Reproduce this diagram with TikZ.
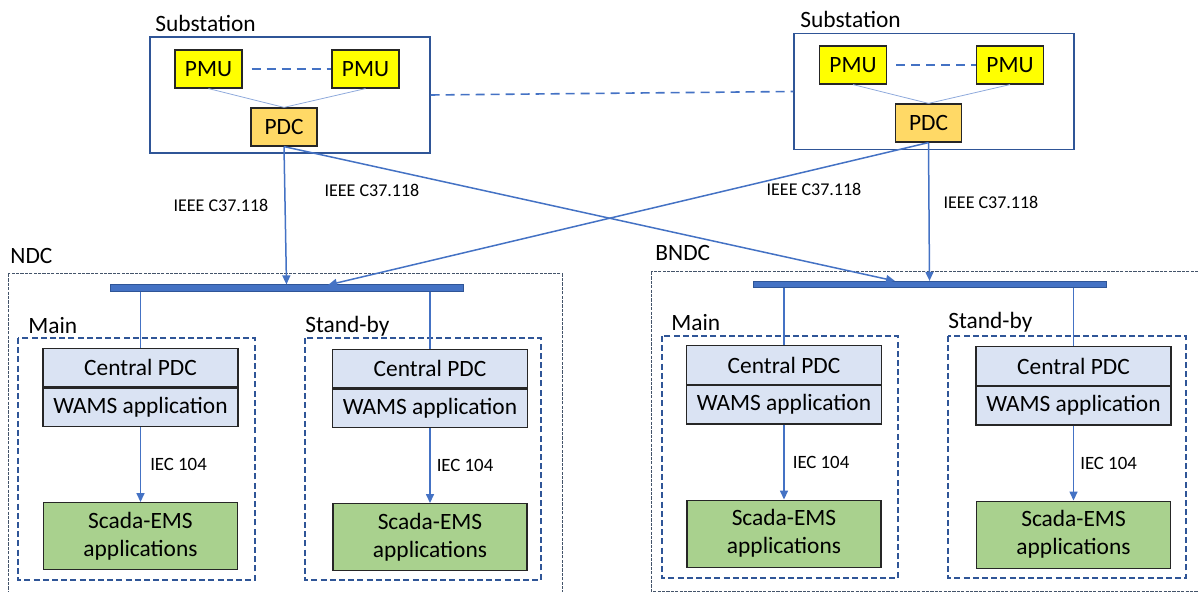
\documentclass[tikz,border=0pt]{standalone}
\usepackage{fontspec}
\setmainfont{Carlito}
\usetikzlibrary{arrows.meta,positioning}

\definecolor{linkblue}{HTML}{4472C4}
\definecolor{frameblue}{HTML}{2F5597}
\definecolor{pmuyellow}{HTML}{FFFF00}
\definecolor{pdcorange}{HTML}{FFD966}
\definecolor{cpdcblue}{HTML}{DAE3F3}
\definecolor{scadagreen}{HTML}{A9D18E}
\definecolor{thinblue}{HTML}{8FAADC}
\definecolor{outergray}{HTML}{44546A}

\newcommand{\boxfont}{\fontsize{11.7}{14}\selectfont}
\newcommand{\protofont}{\fontsize{9}{10}\selectfont}
\newcommand{\iecfont}{\fontsize{9.4}{11}\selectfont}

\tikzset{
  devbox/.style={draw=black!85, line width=0.6pt, inner sep=0pt, font=\boxfont},
  pmubox/.style={devbox, fill=pmuyellow, minimum width=33.5pt, minimum height=19pt},
  pdcbox/.style={devbox, fill=pdcorange, minimum width=33pt, minimum height=19pt},
  cpdcbox/.style={devbox, fill=cpdcblue, minimum width=97.5pt, minimum height=19.25pt},
  scadabox/.style={devbox, fill=scadagreen, minimum width=97pt, minimum height=33.5pt, align=center},
  subbox/.style={draw=frameblue, line width=0.6pt, minimum width=140pt, minimum height=58pt},
  groupbox/.style={draw=frameblue, line width=0.55pt, dash pattern=on 3pt off 1.6pt},
  centrebox/.style={draw=outergray, line width=0.5pt, dash pattern=on 1.6pt off 0.6pt},
  grouplabel/.style={font=\boxfont, inner sep=0pt, anchor=base west},
  link/.style={draw=linkblue, line width=0.75pt, -{Triangle[length=4.5pt,width=4pt]}},
  feed/.style={draw=linkblue, line width=0.75pt},
  pmulink/.style={draw=thinblue, line width=0.4pt},
  peerlink/.style={draw=linkblue, line width=0.8pt, dash pattern=on 4.5pt off 3pt},
  busbar/.style={draw=frameblue, fill=linkblue, line width=0.4pt, minimum width=176.5pt, minimum height=3.2pt, inner sep=0pt},
  proto/.style={font=\protofont, inner sep=0pt},
  iec/.style={font=\iecfont, inner sep=0pt},
}

\begin{document}
\begin{tikzpicture}[x=0.5pt,y=-0.5pt]
\useasboundingbox (0,0) rectangle (1198,592);

% substations
\node[subbox] (subL) at (290,95) {};
\node[grouplabel] (subLlabel) at (155,32) {Substation};
\node[pmubox] (pmuL1) at (208.5,69) {PMU};
\node[pmubox] (pmuL2) at (365.5,69) {PMU};
\node[pdcbox] (pdcL) at (284,127) {PDC};
\draw[pmulink] (pmuL1.south) -- (pdcL.north);
\draw[pmulink] (pmuL2.south) -- (pdcL.north);
\draw[peerlink] ([xshift=4.5pt]pmuL1.east) -- (pmuL2.west);

\node[subbox] (subR) at (934,91.5) {};
\node[grouplabel] (subRlabel) at (800,28) {Substation};
\node[pmubox] (pmuR1) at (853,65) {PMU};
\node[pmubox] (pmuR2) at (1010,65) {PMU};
\node[pdcbox] (pdcR) at (928.5,123) {PDC};
\draw[pmulink] (pmuR1.south) -- (pdcR.north);
\draw[pmulink] (pmuR2.south) -- (pdcR.north);
\draw[peerlink] ([xshift=4.5pt]pmuR1.east) -- (pmuR2.west);

\draw[peerlink] (subL.east) -- (subR.west);

% data centres
\draw[centrebox] (8,274) rectangle (562,610);
\node[grouplabel] (ndclabel) at (10,264) {NDC};
\node[busbar] (busN) at (286.5,288) {};

\draw[centrebox] (651,272) rectangle (1215,591);
\node[grouplabel] (bndclabel) at (655,261) {BNDC};
\node[busbar] (busB) at (929.5,284.5) {};

% NDC main
\draw[groupbox] (18,338) rectangle (255,580);
\node[grouplabel] (mainNlabel) at (28,334) {Main};
\node[cpdcbox] (cpdcN1) at (140.5,367.5) {Central PDC};
\node[cpdcbox, below=0pt of cpdcN1] (wamsN1) {WAMS application};
\node[scadabox, below=37.5pt of wamsN1] (scadaN1) {Scada-EMS\\applications};
\draw[link] (wamsN1) -- (scadaN1) node[iec, midway, right=4.5pt] {IEC 104};
\draw[feed] (busN.south -| cpdcN1.north) -- (cpdcN1.north);

% NDC stand-by
\draw[groupbox] (305,338) rectangle (541,580);
\node[grouplabel] (standNlabel) at (305,333) {Stand-by};
\node[cpdcbox] (cpdcN2) at (430,368.5) {Central PDC};
\node[cpdcbox, below=0pt of cpdcN2] (wamsN2) {WAMS application};
\node[scadabox, below=37.5pt of wamsN2] (scadaN2) {Scada-EMS\\applications};
\draw[link] (wamsN2) -- (scadaN2) node[iec, midway, right=3pt] {IEC 104};
\draw[feed] (busN.south -| cpdcN2.north) -- (cpdcN2.north);

% BNDC main
\draw[groupbox] (662,336) rectangle (898,578);
\node[grouplabel] (mainBlabel) at (671,331) {Main};
\node[cpdcbox] (cpdcB1) at (784,365) {Central PDC};
\node[cpdcbox, below=0pt of cpdcB1] (wamsB1) {WAMS application};
\node[scadabox, below=37.5pt of wamsB1] (scadaB1) {Scada-EMS\\applications};
\draw[link] (wamsB1) -- (scadaB1) node[iec, midway, right=4pt] {IEC 104};
\draw[feed] (busB.south -| cpdcB1.north) -- (cpdcB1.north);

% BNDC stand-by
\draw[groupbox] (948,336) rectangle (1186,578);
\node[grouplabel] (standBlabel) at (948,329) {Stand-by};
\node[cpdcbox] (cpdcB2) at (1073.5,366) {Central PDC};
\node[cpdcbox, below=0pt of cpdcB2] (wamsB2) {WAMS application};
\node[scadabox, below=37.5pt of wamsB2] (scadaB2) {Scada-EMS\\applications};
\draw[link] (wamsB2) -- (scadaB2) node[iec, midway, right=3pt] {IEC 104};
\draw[feed] (busB.south -| cpdcB2.north) -- (cpdcB2.north);

% C37.118 streams
\coordinate (dropN) at (328,285);
\coordinate (dropB) at (895,281);
\draw[link] (pdcL.south) -- (busN.north);
\draw[link] (pdcL.south) -- (dropB);
\draw[link] (pdcR.south) -- (busB.north);
\draw[link] (pdcR.south) -- (dropN);
\node[proto] (protoL1) at (221,205) {IEEE C37.118};
\node[proto] (protoL2) at (372,190) {IEEE C37.118};
\node[proto] (protoR1) at (814,189) {IEEE C37.118};
\node[proto] (protoR2) at (991,202) {IEEE C37.118};
\end{tikzpicture}
\end{document}
